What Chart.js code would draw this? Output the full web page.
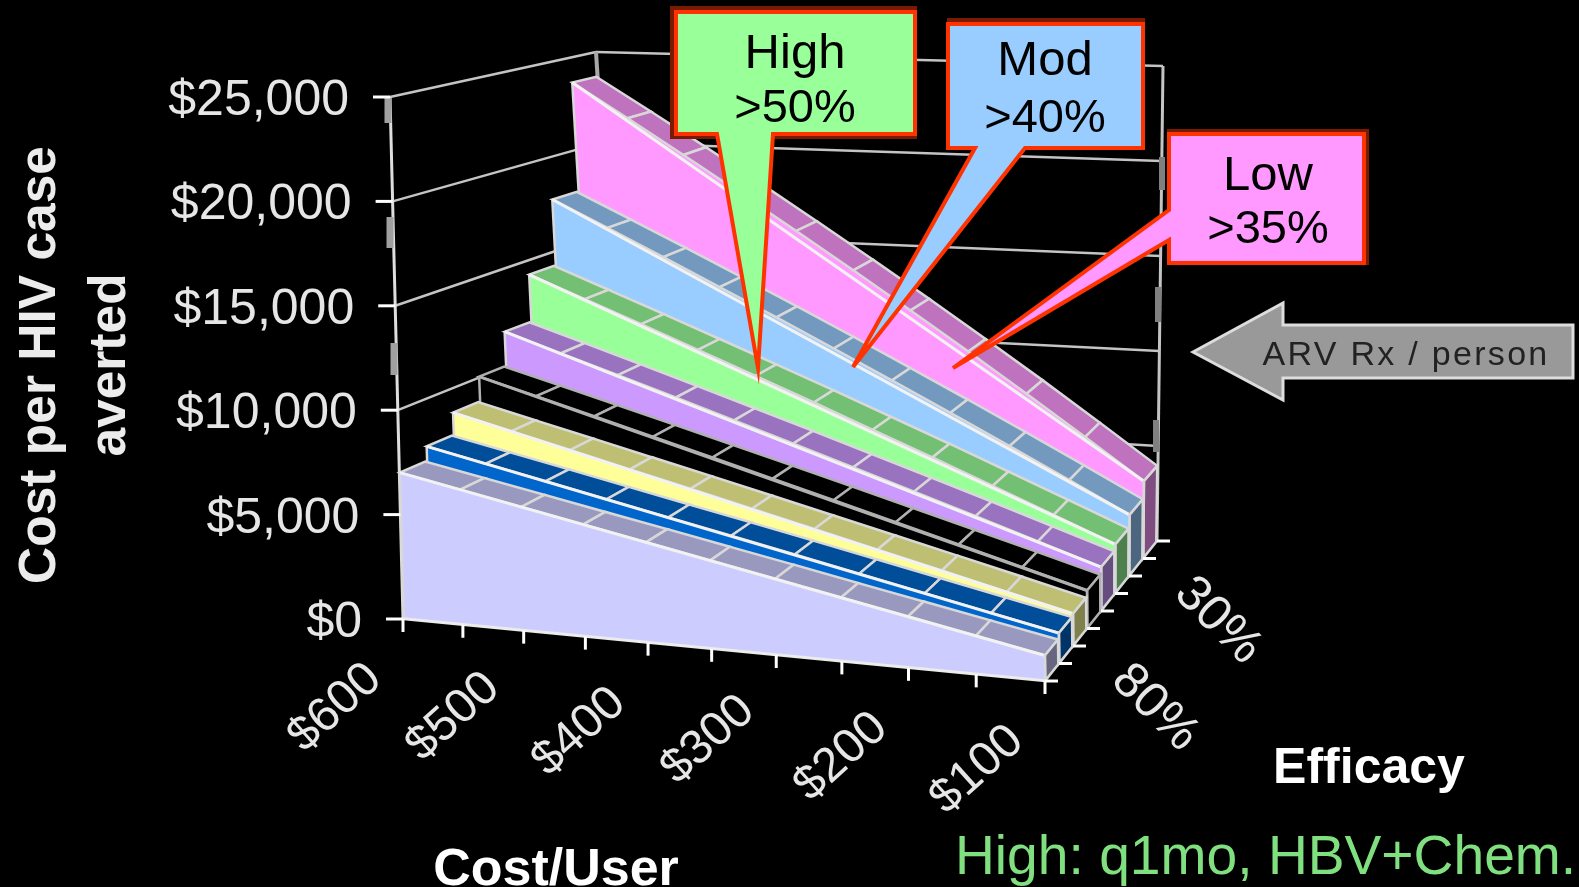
<!DOCTYPE html>
<html>
<head>
<meta charset="utf-8">
<style>
  html, body { margin: 0; padding: 0; background: #000; overflow: hidden; }
  canvas { display: block; }
</style>
<script src="https://cdn.jsdelivr.net/npm/chart.js@4/dist/chart.umd.min.js"></script>
</head>
<body>
<canvas id="chart" width="1579" height="887"></canvas>
<script>
// cost per user along the front edge
var costs = ['$600', '$550', '$500', '$450', '$400', '$350', '$300', '$250', '$200', '$150', '$100'];
var costLabels = ['$600', '$500', '$400', '$300', '$200', '$100'];
var valueTicks = [0, 5000, 10000, 15000, 20000, 25000];
var efficacy = ['80%', '70%', '65%', '60%', '55%', '50%', '40%', '30%'];
var efficacyLabels = ['80%', '30%'];

// cost per HIV case averted, one list per efficacy level, front to back
var eff80 = [7000, 6460, 5910, 5350, 4790, 4210, 3630, 3030, 2430, 1820, 1200];
var eff70 = [7700, 7120, 6530, 5920, 5310, 4700, 4070, 3430, 2780, 2120, 1450];
var eff65 = [8800, 8120, 7440, 6740, 6040, 5320, 4590, 3850, 3100, 2340, 1560];
var eff60 = [10050, 9290, 8510, 7720, 6920, 6110, 5290, 4450, 3600, 2740, 1860];
var eff55 = [11800, 10900, 9990, 9070, 8130, 7180, 6210, 5220, 4230, 3210, 2180];
var eff50 = [14250, 13150, 12040, 10900, 9750, 8590, 7400, 6200, 4970, 3730, 2470];
var eff40 = [17750, 16390, 15000, 13590, 12170, 10720, 9240, 7750, 6230, 4690, 3120];
var eff30 = [23650, 21820, 19960, 18070, 16150, 14200, 12230, 10220, 8180, 6100, 4000];

var seriesValues = [eff80, eff70, eff65, eff60, eff55, eff50, eff40, eff30];
var faceColors = ['#CCCCFF', '#0066CC', '#FFFF99', '#000000', '#CC99FF', '#99FF99', '#99CCFF', '#FF99FF'];
var topColors = ['#9999BF', '#004D99', '#BFBF73', '#000000', '#9973BF', '#73BF73', '#7399BF', '#BF73BF'];
var sideColors = ['#666680', '#003366', '#80804D', '#000000', '#664D80', '#4D804D', '#4D6680', '#804D80'];

// screen positions of the eight corners of the plot box
var box = {
  leftFrontBottom: [403, 619], leftFrontTop: [390, 97],
  rightFrontBottom: [1045, 681], rightFrontTop: [1037, 156],
  leftBackBottom: [625, 505], leftBackTop: [596, 52],
  rightBackBottom: [1157, 541], rightBackTop: [1163, 66]
};
var depthFront = 0.02, depthBack = 0.95;
var foreshorten = 1.08;

function mix(a, b, t) { return [a[0] + (b[0] - a[0]) * t, a[1] + (b[1] - a[1]) * t]; }

function project(chart, cat, depth, value) {
  var xs = chart.scales.x, ys = chart.scales.y, zs = chart.scales.depth;
  var u = (xs.getPixelForValue(cat) - xs.left) / xs.width;
  // steps along the cost axis open up towards the viewer
  u = u / (foreshorten - (foreshorten - 1) * u);
  var w = (zs.getPixelForValue(depth) - zs.left) / zs.width;
  var v = (ys.bottom - ys.getPixelForValue(value)) / ys.height;
  var fb = mix(box.leftFrontBottom, box.rightFrontBottom, u);
  var ft = mix(box.leftFrontTop, box.rightFrontTop, u);
  var bb = mix(box.leftBackBottom, box.rightBackBottom, u);
  var bt = mix(box.leftBackTop, box.rightBackTop, u);
  return mix(mix(fb, bb, w), mix(ft, bt, w), v);
}

function poly(ctx, pts, fill, stroke, lw) {
  ctx.beginPath();
  pts.forEach(function(p, i) { if (i) ctx.lineTo(p[0], p[1]); else ctx.moveTo(p[0], p[1]); });
  ctx.closePath();
  if (fill) { ctx.fillStyle = fill; ctx.fill(); }
  if (stroke) { ctx.strokeStyle = stroke; ctx.lineWidth = lw || 2; ctx.lineJoin = 'miter'; ctx.stroke(); }
}

function line(ctx, a, b, color, lw) {
  ctx.beginPath();
  ctx.moveTo(a[0], a[1]);
  ctx.lineTo(b[0], b[1]);
  ctx.strokeStyle = color;
  ctx.lineWidth = lw;
  ctx.stroke();
}

function label(ctx, text, x, y, font, color, angle, align, baseline) {
  ctx.save();
  ctx.translate(x, y);
  if (angle) ctx.rotate(angle * Math.PI / 180);
  ctx.font = font;
  ctx.fillStyle = color;
  ctx.textAlign = align || 'center';
  ctx.textBaseline = baseline || 'alphabetic';
  ctx.fillText(text, 0, 0);
  ctx.restore();
}

function drawWalls(chart, ctx) {
  var last = costs.length - 1, back = efficacy.length;
  var gridColor = '#c4c4c4';
  valueTicks.forEach(function(v) {
    var f = project(chart, 0, 0, v), b = project(chart, 0, back, v), r = project(chart, last, back, v);
    line(ctx, f, b, gridColor, 2.5);
    line(ctx, b, r, gridColor, 2.5);
  });
  line(ctx, project(chart, 0, back, 0), project(chart, 0, back, 25000), '#a8a8a8', 4);
  line(ctx, project(chart, last, back, 0), project(chart, last, back, 25000), gridColor, 3);
  line(ctx, project(chart, 0, 0, 0), project(chart, 0, 0, 25000), '#dedede', 3);
  // heavier grey stretches on the two upright edges
  [[[388, 98], [388, 123]], [[390, 217], [390, 248]], [[394, 343], [394, 375]]].forEach(function(seg) {
    line(ctx, seg[0], seg[1], '#a0a0a0', 7);
  });
  [[[1162, 157], [1162, 190]], [[1158, 287], [1158, 322]], [[1156, 420], [1156, 452]]].forEach(function(seg) {
    line(ctx, seg[0], seg[1], '#808080', 6);
  });
}

function drawSeries(chart, ctx, s) {
  var vals = seriesValues[s], last = vals.length - 1;
  var zf = s + depthFront, zb = s + depthBack;
  var edge = s === 3 ? '#b0b0b0' : '#d8d8d8', bright = s === 3 ? '#b0b0b0' : '#f2f2f2';
  var frontEdge = [], backEdge = [], base = [];
  vals.forEach(function(v, i) {
    frontEdge.push(project(chart, i, zf, v));
    backEdge.push(project(chart, i, zb, v));
    base.push(project(chart, i, zf, 0));
  });
  // front face
  poly(ctx, frontEdge.concat(base.slice().reverse()), faceColors[s]);
  line(ctx, frontEdge[0], base[0], edge, 2.5);
  // sloped top, split at each cost step
  for (var i = 0; i < last; i++) {
    poly(ctx, [frontEdge[i], frontEdge[i + 1], backEdge[i + 1], backEdge[i]], topColors[s], edge, 2.5);
  }
  line(ctx, frontEdge[0], frontEdge[last], bright, 3);
  // right end of the ribbon
  var rb = project(chart, last, zb, 0);
  poly(ctx, [frontEdge[last], backEdge[last], rb, base[last]], sideColors[s], edge, 2.5);
  line(ctx, frontEdge[last], base[last], edge, 2.5);
  line(ctx, base[0], base[last], s === 0 ? '#ececec' : edge, 3);
}

function drawAxes(chart, ctx) {
  var face = '"Liberation Sans", Arial, sans-serif';
  var ys = chart.scales.y;
  ys.ticks.forEach(function(t) {
    var p = project(chart, 0, 0, t.value);
    line(ctx, [p[0] - 17, p[1]], [p[0], p[1]], '#ffffff', 3);
    label(ctx, t.label, p[0] - 41, p[1] + 18, '50px ' + face, '#e6e6e6', 0, 'right');
  });
  costs.forEach(function(c, i) {
    var p = project(chart, i, 0, 0);
    line(ctx, [p[0], p[1]], [p[0], p[1] + 13], '#ffffff', 3);
  });
  for (var z = 0; z <= efficacy.length; z++) {
    var q = project(chart, costs.length - 1, z, 0);
    line(ctx, [q[0], q[1]], [q[0] + 13, q[1]], '#ffffff', 3);
  }
  var costLabelPos = [[335, 708], [453, 717], [579, 732], [708, 740], [841, 757], [977, 770]];
  costLabels.forEach(function(t, i) {
    label(ctx, t, costLabelPos[i][0], costLabelPos[i][1], '48px ' + face, '#e6e6e6', -42, 'center', 'middle');
  });
  label(ctx, efficacyLabels[0], 1155, 708, '50px ' + face, '#e6e6e6', 45, 'center', 'middle');
  label(ctx, efficacyLabels[1], 1218, 621, '50px ' + face, '#e6e6e6', 45, 'center', 'middle');

  label(ctx, 'Cost per HIV case', 55, 365, 'bold 51.5px ' + face, '#ececec', -90);
  label(ctx, 'averted', 125, 365, 'bold 51.5px ' + face, '#ececec', -90);
  label(ctx, 'Cost/User', 556, 885, 'bold 52px ' + face, '#ffffff');
  label(ctx, 'Efficacy', 1369, 783, 'bold 50px ' + face, '#ffffff');
  label(ctx, 'High: q1mo, HBV+Chem.', 955, 874, '55.2px ' + face, '#80E080', 0, 'left');
}

function callout(ctx, backing, pts, fill, lines) {
  var face = '"Liberation Sans", Arial, sans-serif';
  ctx.fillStyle = '#7a1a00';
  ctx.fillRect(backing[0], backing[1], backing[2] - backing[0], backing[3] - backing[1]);
  poly(ctx, pts, fill, '#FF3300', 4);
  label(ctx, lines[0][0], lines[0][1], lines[0][2], '49px ' + face, '#000000');
  label(ctx, lines[1][0], lines[1][1], lines[1][2], '47px ' + face, '#000000');
}

function drawNotes(ctx) {
  callout(ctx, [670, 6, 917, 139],
    [[676, 12], [915, 12], [915, 134], [773, 134], [758, 368], [717, 134], [676, 134]], '#99FF99',
    [['High', 795, 68], ['>50%', 795, 122]]);
  callout(ctx, [947, 18, 1145, 150],
    [[948, 24], [1143, 24], [1143, 148], [1025, 148], [853, 367], [975, 148], [948, 148]], '#99CCFF',
    [['Mod', 1045, 75], ['>40%', 1045, 132]]);
  callout(ctx, [1167, 129, 1369, 265],
    [[1169, 134], [1364, 134], [1364, 263], [1169, 263], [1169, 240], [953, 368], [1169, 210]], '#FF99FF',
    [['Low', 1268, 190], ['>35%', 1268, 243]]);
  poly(ctx, [[1193, 352], [1283, 303], [1283, 325], [1573, 325], [1573, 378], [1283, 378], [1283, 400]], '#999999', '#dddddd', 3);
  ctx.letterSpacing = '2.3px';
  label(ctx, 'ARV Rx / person', 1406, 365, '34px "Liberation Sans", Arial, sans-serif', '#222222');
  ctx.letterSpacing = '0px';
}

var ribbons3d = {
  id: 'ribbons3d',
  afterDatasetsDraw: function(chart) {
    var ctx = chart.ctx;
    ctx.save();
    drawWalls(chart, ctx);
    for (var s = seriesValues.length - 1; s >= 0; s--) drawSeries(chart, ctx, s);
    drawAxes(chart, ctx);
    drawNotes(ctx);
    ctx.restore();
  }
};

new Chart(document.getElementById('chart').getContext('2d'), {
  type: 'line',
  data: {
    labels: costs,
    datasets: seriesValues.map(function(vals, s) {
      return { label: efficacy[s], data: vals, showLine: false, pointRadius: 0, backgroundColor: faceColors[s] };
    })
  },
  options: {
    responsive: false,
    animation: false,
    plugins: { legend: { display: false }, tooltip: { enabled: false } },
    scales: {
      x: { type: 'category', offset: false, display: false },
      y: {
        type: 'linear', min: 0, max: 25000, display: false,
        ticks: {
          stepSize: 5000,
          callback: function(v) { return '$' + v.toLocaleString('en-US'); }
        }
      },
      depth: { type: 'linear', axis: 'x', min: 0, max: efficacy.length, display: false }
    }
  },
  plugins: [ribbons3d]
});
</script>
</body>
</html>
